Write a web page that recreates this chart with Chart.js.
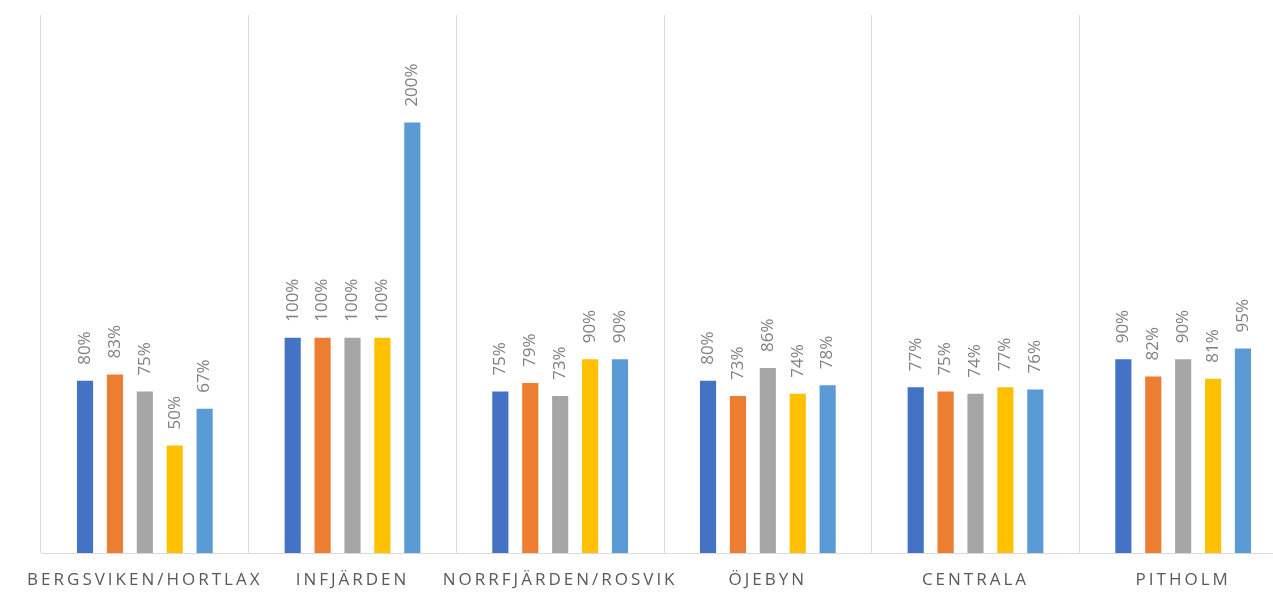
<!DOCTYPE html>
<html>
<head>
<meta charset="utf-8">
<script src="https://cdn.jsdelivr.net/npm/chart.js@4/dist/chart.umd.min.js"></script>
<style>
  html, body { margin: 0; padding: 0; background: #fff; overflow: hidden; }
  #wrap { width: 1290px; height: 595px; }
</style>
</head>
<body>
<div id="wrap"><canvas id="chart" width="1290" height="595"></canvas></div>
<script>
// categories and series values (percent)
const categories = ['BERGSVIKEN/HORTLAX', 'INFJÄRDEN', 'NORRFJÄRDEN/ROSVIK', 'ÖJEBYN', 'CENTRALA', 'PITHOLM'];
const serie1 = [80, 100, 75, 80, 77, 90];
const serie2 = [83, 100, 79, 73, 75, 82];
const serie3 = [75, 100, 73, 86, 74, 90];
const serie4 = [50, 100, 90, 74, 77, 81];
const serie5 = [67, 200, 90, 78, 76, 95];
const seriesNames = ['Serie 1', 'Serie 2', 'Serie 3', 'Serie 4', 'Serie 5'];
const colors = ['#4472C4', '#ED7D31', '#A5A5A5', '#FFC000', '#5B9BD5'];

const allSeries = [serie1, serie2, serie3, serie4, serie5];

// letter spacing for the category labels
const spacing = {
    id: 'spacing',
    beforeLayout(chart) { chart.ctx.letterSpacing = '3px'; },
    afterLayout(chart) { chart.ctx.letterSpacing = '0px'; },
    beforeDraw(chart) { chart.ctx.letterSpacing = '3px'; },
    beforeDatasetsDraw(chart) { chart.ctx.letterSpacing = '0px'; }
};

// rotated value labels above each bar
const valueLabels = {
    id: 'valueLabels',
    afterDatasetsDraw(chart) {
        const ctx = chart.ctx;
        ctx.save();
        ctx.font = '17px "Open Sans", sans-serif';
        ctx.fillStyle = '#808080';
        ctx.textAlign = 'left';
        ctx.textBaseline = 'middle';
        chart.data.datasets.forEach((ds, i) => {
            chart.getDatasetMeta(i).data.forEach((bar, j) => {
                ctx.save();
                ctx.translate(bar.x, bar.y - 16);
                ctx.rotate(-Math.PI / 2);
                ctx.fillText(ds.data[j] + '%', 0, 0);
                ctx.restore();
            });
        });
        ctx.restore();
    }
};

new Chart(document.getElementById('chart').getContext('2d'), {
    type: 'bar',
    data: {
        labels: categories,
        datasets: allSeries.map((data, i) => ({
            label: seriesNames[i],
            data: data,
            backgroundColor: colors[i],
            categoryPercentage: 0.72,
            barPercentage: 0.54
        }))
    },
    options: {
        responsive: false,
        animation: false,
        layout: { padding: { left: 41, top: 15, right: 3, bottom: 0 } },
        scales: {
            x: {
                afterFit(scale) { scale.height = 42; },
                grid: { color: '#d9d9d9', drawTicks: false },
                border: { color: '#d9d9d9' },
                ticks: {
                    color: '#595959',
                    font: { family: '"Open Sans", sans-serif', size: 17 },
                    padding: 17,
                    autoSkip: false,
                    maxRotation: 0,
                    minRotation: 0
                }
            },
            y: {
                display: false,
                min: 0,
                max: 250
            }
        },
        plugins: {
            legend: { display: false },
            tooltip: { enabled: false }
        }
    },
    plugins: [spacing, valueLabels]
});
</script>
</body>
</html>
